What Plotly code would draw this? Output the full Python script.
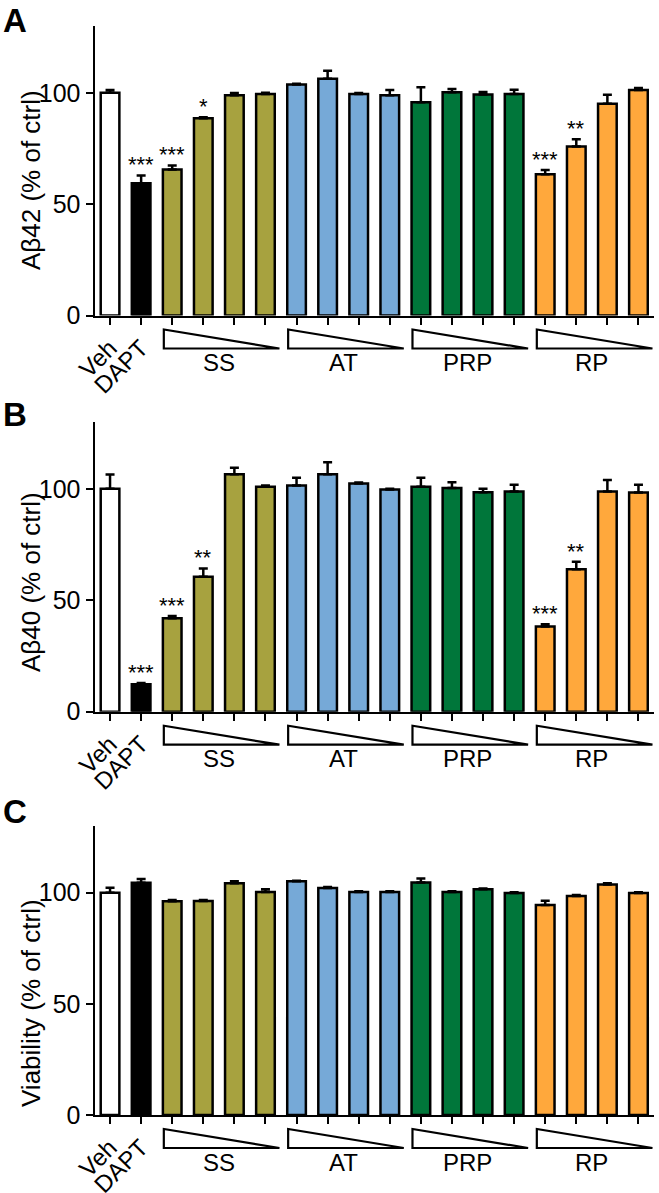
import numpy as np
import plotly.graph_objects as go
from plotly.subplots import make_subplots

# categories: vehicle, DAPT, then 4 doses (high -> low) of each compound
categories = ["Veh", "DAPT",
              "SS-1", "SS-2", "SS-3", "SS-4",
              "AT-1", "AT-2", "AT-3", "AT-4",
              "PRP-1", "PRP-2", "PRP-3", "PRP-4",
              "RP-1", "RP-2", "RP-3", "RP-4"]
tick_labels = ["Veh", "DAPT"] + [""] * 16
groups = ["SS", "AT", "PRP", "RP"]
group_first = [2, 6, 10, 14]
group_last = [5, 9, 13, 17]

abeta42 = [100.0, 59.4, 65.6, 88.6, 98.9, 99.5, 103.7, 106.3, 99.5, 98.9,
           95.8, 100.3, 99.2, 99.5, 63.4, 75.9, 95.1, 101.3]
abeta42_err = [1.3, 3.5, 1.8, 0.4, 1.0, 0.5, 0.4, 3.6, 0.4, 2.4,
               6.7, 1.4, 1.2, 1.9, 1.9, 3.3, 4.0, 0.9]
abeta42_sig = ["", "***", "***", "*", "", "", "", "", "", "",
               "", "", "", "", "***", "**", "", ""]

abeta40 = [100.0, 12.3, 41.9, 60.6, 106.5, 101.0, 101.5, 106.6, 102.4, 99.7,
           100.9, 100.4, 98.5, 98.8, 38.2, 63.9, 98.8, 98.4]
abeta40_err = [6.4, 0.6, 1.0, 3.7, 3.0, 0.5, 3.5, 5.3, 0.4, 0.3,
               4.1, 2.6, 1.5, 3.0, 1.0, 3.4, 5.2, 3.4]
abeta40_sig = ["", "***", "***", "**", "", "", "", "", "", "",
               "", "", "", "", "***", "**", "", ""]

viability = [100.0, 104.5, 96.2, 96.3, 104.2, 100.3, 105.1, 102.1, 100.3, 100.3,
             104.6, 100.3, 101.5, 99.9, 94.5, 98.5, 103.7, 99.9]
viability_err = [2.2, 1.7, 0.5, 0.4, 1.0, 1.2, 0.3, 0.5, 0.3, 0.3,
                 1.8, 0.3, 0.4, 0.3, 1.9, 0.5, 0.5, 0.3]
viability_sig = [""] * 18

bar_colors = ["#FFFFFF", "#000000"] + ["#A7A23F"] * 4 + ["#76A9D7"] * 4 + \
             ["#00763A"] * 4 + ["#FFA83C"] * 4

panels = [
    ("A", "Aβ42 (% of ctrl)", abeta42, abeta42_err, abeta42_sig),
    ("B", "Aβ40 (% of ctrl)", abeta40, abeta40_err, abeta40_sig),
    ("C", "Viability (% of ctrl)", viability, viability_err, viability_sig),
]

W, H = 659, 1193
FONT = "Arial, Liberation Sans, Helvetica, sans-serif"


def py(px):
    # pixel row from top -> paper y
    return 1 - px / H


def pxx(px):
    return px / W


# pixel geometry of each panel (y of zero line, y of top)
bottoms = [315.5, 711.7, 1115.0]
tops = [26.0, 422.0, 826.0]
title_centers = [180, 582, 1003]
letter_centers = [20, 414, 812]

fig = make_subplots(rows=3, cols=1)
x = np.arange(len(categories))

annos = []
shapes = []
for i, (letter, ytitle, vals, errs, sig) in enumerate(panels):
    r = i + 1
    fig.add_trace(go.Bar(
        x=x, y=vals, width=0.6,
        marker=dict(color=bar_colors, line=dict(color="black", width=2.5)),
        error_y=dict(type="data", symmetric=False, array=errs,
                     arrayminus=[0] * len(errs), color="black",
                     thickness=2.5, width=4.5),
        hoverinfo="x+y",
    ), row=r, col=1)

    xa = "x" if r == 1 else f"x{r}"
    ya = "y" if r == 1 else f"y{r}"

    # significance stars
    for xi, v, e, s in zip(x, vals, errs, sig):
        if s:
            annos.append(dict(x=xi, y=v + e, xref=xa, yref=ya, text=s,
                              showarrow=False, yanchor="bottom", yshift=-4,
                              font=dict(size=22, color="black", family=FONT)))

    # dose wedges + group names
    b = bottoms[i]
    for g, f0, f1 in zip(groups, group_first, group_last):
        x0, x1 = f0 - 0.27, f1 + 0.45
        y0, y1 = py(b + 14), py(b + 33)
        shapes.append(dict(type="path", xref=xa, yref="paper",
                           path=f"M {x0},{y0} L {x0},{y1} L {x1},{y1} Z",
                           line=dict(color="black", width=2.2),
                           fillcolor="white"))
        annos.append(dict(x=(f0 + f1) / 2, y=py(b + 47), xref=xa, yref="paper",
                          text=g, showarrow=False, yanchor="middle",
                          font=dict(size=24, color="black", family=FONT)))

    # y title and panel letter
    annos.append(dict(x=pxx(31), y=py(title_centers[i]), xref="paper", yref="paper",
                      text=ytitle, textangle=-90, showarrow=False,
                      xanchor="center", yanchor="middle",
                      font=dict(size=26, color="black", family=FONT)))
    annos.append(dict(x=pxx(1), y=py(letter_centers[i]), xref="paper", yref="paper",
                      text=f"<b>{letter}</b>", showarrow=False,
                      xanchor="left", yanchor="middle",
                      font=dict(size=33, color="black", family=FONT)))

    fig.update_yaxes(domain=[py(bottoms[i]), py(tops[i])], range=[0, 130],
                     tickvals=[0, 50, 100], row=r, col=1)

fig.update_xaxes(
    domain=[pxx(94.5), pxx(654)],
    range=[-0.5, 17.5],
    tickvals=list(x),
    ticktext=tick_labels,
    tickangle=-45,
    ticks="outside", ticklen=7, tickwidth=2, tickcolor="black",
    showline=True, linewidth=2, linecolor="black",
    showgrid=False, zeroline=False, automargin=False,
    tickfont=dict(size=24, color="black", family=FONT),
)
fig.update_yaxes(
    ticks="outside", ticklen=7, tickwidth=2, tickcolor="black",
    showline=True, linewidth=2, linecolor="black",
    showgrid=False, zeroline=False, automargin=False,
    tickfont=dict(size=25, color="black", family=FONT),
)
fig.update_layout(
    width=W, height=H,
    margin=dict(l=0, r=0, t=0, b=0),
    plot_bgcolor="white", paper_bgcolor="white",
    showlegend=False,
    annotations=annos,
    shapes=shapes,
    font=dict(family=FONT, color="black"),
)

# drop the default page margin so the figure fills the window exactly
fig.write_html("out.html", config={"displayModeBar": False},
               post_script="document.body.style.margin='0';")
